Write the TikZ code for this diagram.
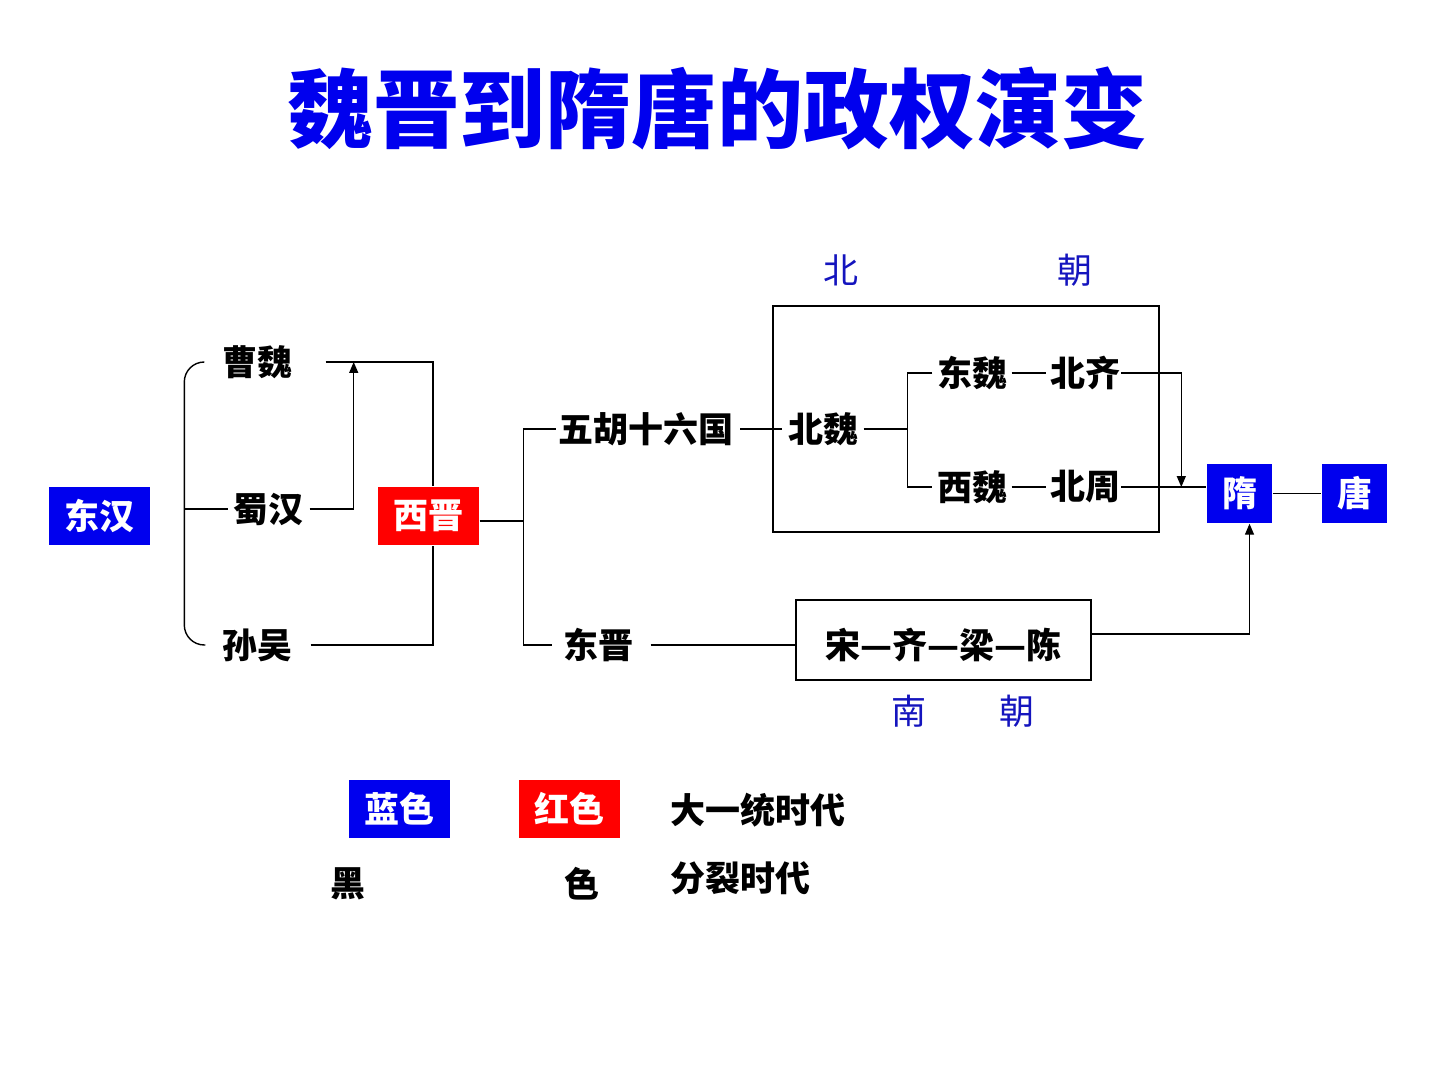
\documentclass[tikz,border=0pt]{standalone}
\usepackage{fontspec}
\newfontfamily\cjk{Noto Sans CJK SC}
\usetikzlibrary{arrows.meta,positioning,calc}
\definecolor{uniblue}{RGB}{0,0,238}
\definecolor{splitred}{RGB}{255,0,0}
\definecolor{labblue}{RGB}{20,20,190}
\tikzset{
  era/.style={font=\cjk\bfseries\fontsize{17.5}{20}\selectfont, inner sep=0pt},
  uni/.style={era, fill=uniblue, text=white, minimum width=50.5pt, minimum height=29pt},
  split/.style={uni, fill=splitred},
  narrow/.style={minimum width=32.5pt, minimum height=29.5pt},
  side/.style={font=\cjk\fontsize{17.5}{20}\selectfont, text=labblue, inner sep=0pt},
  sig/.style={-{Triangle[length=5.5pt,width=4.5pt]}},
}
\begin{document}
\begin{tikzpicture}[x=0.5pt,y=-0.5pt,line width=0.7pt]
    \useasboundingbox (0,0) rectangle (1440,1080);
    \node[font=\cjk\bfseries\fontsize{43}{48}\selectfont, text=uniblue] (title) at (717,108) {魏晋到隋唐的政权演变};

    % three kingdoms
    \node[uni] (dh) at (99.5,516) {东汉};
    \node[era] (cw) at (257,362) {曹魏};
    \node[era] (sh) at (268,509) {蜀汉};
    \node[era] (sw) at (257,645) {孙吴};
    \node[split] (xj) at (428.5,516) {西晋};
    \path (sh.west) ++(-48,0) coordinate (bx);
    \draw[rounded corners=10pt] (cw.west) ++(-17,0) -| (bx) |- ([xshift=-8pt]sw.west);
    \draw (bx) -- ([xshift=-2pt]sh.west);
    \path (cw.east) ++(61,0) coordinate (cwj);
    \draw (cw.east) ++(33,0) -| ([xshift=2.25pt]xj.north);
    \draw (sw.east) ++(18,0) -| ([xshift=2.25pt]xj.south);
    \draw[sig] (sh.east) ++(6,0) -| (cwj);

    % north and south
    \node[era] (wh) at (646,429) {五胡十六国};
    \node[era] (dj) at (598,645) {东晋};
    \path ([yshift=-2.5pt]xj.east) ++(44,0) coordinate (fk);
    \draw ([yshift=-2.5pt]xj.east) -- (fk);
    \draw ([xshift=-1pt]wh.west) -| (fk) |- ([xshift=-5pt]dj.west);
    \node[draw, minimum width=193pt, minimum height=113pt] (bc) at (966,419) {};
    \node[era, right=27pt of wh] (bw) {北魏};
    \node[era] (dw) at (972,373) {东魏};
    \node[era] (xw) at (972,487) {西魏};
    \node[era, right=21pt of dw] (bq) {北齐};
    \node[era, right=21pt of xw] (bz) {北周};
    \draw ([xshift=3pt]wh.east) -- ([xshift=-3pt]bw.west);
    \path (bw.east) ++(48,0) coordinate (fk2);
    \draw ([xshift=2pt]bw.east) -- (fk2);
    \draw ([xshift=-2pt]dw.west) -| (fk2) |- ([xshift=-2pt]xw.west);
    \draw ([xshift=2pt]dw.east) -- ([xshift=-2pt]bq.west);
    \draw ([xshift=2pt]xw.east) -- ([xshift=-2pt]bz.west);
    \node[side] (bei) at (841,270) {北};
    \node[side] (chao1) at (1075,270) {朝};

    \node[draw, era, minimum width=147.5pt, minimum height=40pt, text height=20pt, text depth=2pt] (nc) at (943.5,640) {宋—齐—梁—陈};
    \node[side] (nan) at (909,711) {南};
    \node[side] (chao2) at (1017,711) {朝};
    \draw (dj.east) ++(17,0) -- (dj.east -| nc.west);

    % sui and tang
    \node[uni, narrow] (sui) at (1239.5,493.5) {隋};
    \node[uni, narrow] (tang) at (1354.5,493.5) {唐};
    \draw (bz.east) -- (bz.east -| sui.west);
    \path ($(bz.east -| sui.west)+(-25,0)$) coordinate (bzj);
    \draw[sig] (bq.east) -| (bzj);
    \draw[sig] ([yshift=3pt]nc.east) -| ([xshift=5pt]sui.south);
    \draw (sui) -- (tang);

    % legend
    \node[uni] (lan) at (399.5,809) {蓝色};
    \node[split] (hong) at (569,809) {红色};
    \node[era, anchor=west] (uniera) at (670,810) {大一统时代};
    \node[era] (hei) at (348,884) {黑};
    \node[era] (se) at (582,884) {色};
    \node[era, anchor=west] (spera) at (670,878) {分裂时代};
\end{tikzpicture}
\end{document}
